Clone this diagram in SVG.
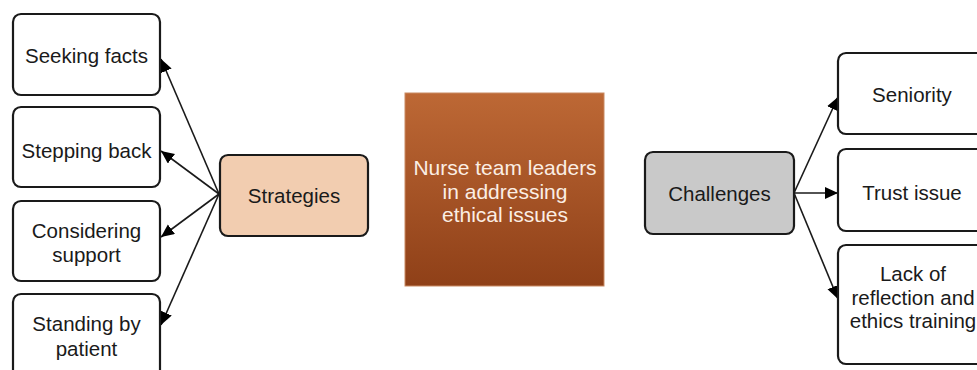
<svg xmlns="http://www.w3.org/2000/svg" width="977" height="370" viewBox="0 0 977 370">
<style>
text{font-family:"Liberation Sans",Arial,sans-serif;font-size:20.5px;fill:#1a1a1a;text-anchor:middle;dominant-baseline:central}
.box{fill:#fff;stroke:#1a1a1a;stroke-width:2.2}
.conn{stroke:#1a1a1a;stroke-width:1.6;fill:none;marker-end:url(#ah)}
.ctr{fill:#fbeee4;font-size:21px}
</style>
<defs>
<marker id="ah" markerUnits="userSpaceOnUse" markerWidth="15" markerHeight="13" refX="13" refY="6" orient="auto">
<path d="M0,0 L13,6 L0,12 z" fill="#000"/>
</marker>
<linearGradient id="g" x1="0" y1="0" x2="0" y2="1">
<stop offset="0" stop-color="#bd6835"/>
<stop offset="1" stop-color="#8f4018"/>
</linearGradient>
</defs>
<rect width="977" height="370" fill="#fff"/>
<g id="connectors">
<line class="conn" x1="219" y1="194" x2="161" y2="59"/>
<line class="conn" x1="219" y1="194" x2="161" y2="151"/>
<line class="conn" x1="219" y1="194" x2="161" y2="237"/>
<line class="conn" x1="219" y1="194" x2="161" y2="325"/>
<line class="conn" x1="794" y1="193" x2="838" y2="97"/>
<line class="conn" x1="794" y1="193" x2="838" y2="193"/>
<line class="conn" x1="794" y1="193" x2="838" y2="299"/>
</g>
<g id="seeking-facts"><rect class="box" x="13" y="14" width="147" height="81" rx="8"/><text x="86.5" y="55">Seeking facts</text></g>
<g id="stepping-back"><rect class="box" x="13" y="107" width="147" height="80" rx="8"/><text x="86.5" y="150">Stepping back</text></g>
<g id="considering-support"><rect class="box" x="13" y="201" width="147" height="80" rx="8"/><text x="86.5" y="230">Considering</text><text x="86.5" y="254">support</text></g>
<g id="standing-by-patient"><rect class="box" x="13" y="294" width="147" height="84" rx="8"/><text x="86.5" y="323">Standing by</text><text x="86.5" y="348">patient</text></g>
<g id="strategies"><rect x="220" y="155" width="148" height="81" rx="8" fill="#f2cdb0" stroke="#1a1a1a" stroke-width="2.2"/><text x="294" y="195">Strategies</text></g>
<g id="center"><rect x="405" y="93" width="199" height="193" fill="url(#g)" stroke="#c98a62" stroke-width="1"/><text class="ctr" x="505" y="167">Nurse team leaders</text><text class="ctr" x="505" y="191">in addressing</text><text class="ctr" x="505" y="214">ethical issues</text></g>
<g id="challenges"><rect x="645" y="152" width="149" height="82" rx="8" fill="#c9c9c9" stroke="#1a1a1a" stroke-width="2.2"/><text x="719.5" y="193">Challenges</text></g>
<g id="seniority"><rect class="box" x="838" y="53" width="150" height="81" rx="8"/><text x="912" y="94">Seniority</text></g>
<g id="trust-issue"><rect class="box" x="838" y="149" width="150" height="82" rx="8"/><text x="912" y="192">Trust issue</text></g>
<g id="lack"><rect class="box" x="838" y="245" width="150" height="119" rx="8"/><text x="913" y="273">Lack of</text><text x="913" y="297">reflection and</text><text x="913" y="320">ethics training</text></g>
</svg>
